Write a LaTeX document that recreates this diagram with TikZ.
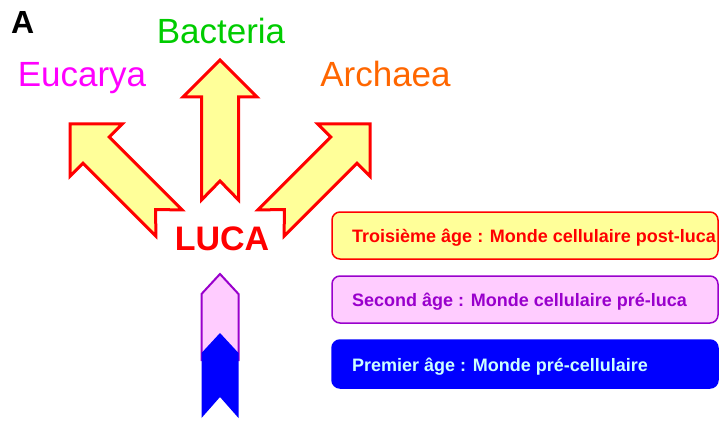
\documentclass[tikz,border=0pt]{standalone}
\usepackage{fontspec}
\setmainfont{Liberation Sans}
\definecolor{ylw}{HTML}{FFFF99}
\definecolor{pinkf}{HTML}{FFCCFF}
\definecolor{purp}{HTML}{9900CC}
\definecolor{grn}{HTML}{00CC00}
\definecolor{org}{HTML}{FF6600}
\definecolor{mag}{HTML}{FF00FF}
\definecolor{lcyan}{HTML}{CCFFFF}
\tikzset{
  bigarrow/.style={draw=red, fill=ylw, line width=3pt, line join=miter},
  agebox/.style={rounded corners=8pt, line width=1.5pt},
  lbl/.style={inner sep=0pt, anchor=base},
  agetext/.style={inner sep=0pt, anchor=base west, font=\bfseries\fontsize{18}{20}\selectfont}
}
\newcommand{\blockarrow}{(0,0) -- (37,37) -- (18.5,37) -- (18.5,140) -- (0,121) -- (-18.5,140) -- (-18.5,37) -- (-37,37) -- cycle}
\begin{document}
\begin{tikzpicture}[x=1pt,y=-1pt]
\useasboundingbox (0,0) rectangle (720,425);
% labels
\node[lbl, anchor=base west, font=\bfseries\fontsize{32}{34}\selectfont] (labA) at (11,34) {A};
\node[lbl, text=grn, font=\fontsize{35}{38}\selectfont] (bac) at (221,44) {Bacteria};
\node[lbl, text=mag, font=\fontsize{35}{38}\selectfont] (euc) at (82,87) {Eucarya};
\node[lbl, text=org, font=\fontsize{35}{38}\selectfont] (arc) at (385.5,87) {Archaea};
% yellow arrows
\begin{scope}[shift={(220,60)}]
  \draw[bigarrow] \blockarrow;
\end{scope}
\begin{scope}[shift={(70,124)}, rotate=45]
  \draw[bigarrow] \blockarrow;
\end{scope}
\begin{scope}[shift={(370,124)}, rotate=-45]
  \draw[bigarrow] \blockarrow;
\end{scope}
\node[lbl, text=red, font=\bfseries\fontsize{34}{36}\selectfont] (luca) at (222,250) {LUCA};
% bottom arrows
\draw[draw=purp, fill=pinkf, line width=2pt] (220,274) -- (238.5,294) -- (238.5,360) -- (201.5,360) -- (201.5,294) -- cycle;
\fill[blue] (220,333) -- (238.5,353) -- (238.5,418) -- (220,397) -- (201.5,418) -- (201.5,353) -- cycle;
% age boxes
\draw[agebox, draw=red, fill=ylw] (332,212) rectangle (718,259);
\node[agetext, text=red] (t3) at (352,242) {Troisième âge : Monde cellulaire post-luca};
\draw[agebox, draw=purp, fill=pinkf] (332,276) rectangle (718,323);
\node[agetext, text=purp] (t2) at (352,306) {Second âge : Monde cellulaire pré-luca};
\draw[agebox, draw=blue, fill=blue] (332,340) rectangle (718,388);
\node[agetext, text=lcyan] (t1) at (352,371) {Premier âge : Monde pré-cellulaire};
\end{tikzpicture}
\end{document}
